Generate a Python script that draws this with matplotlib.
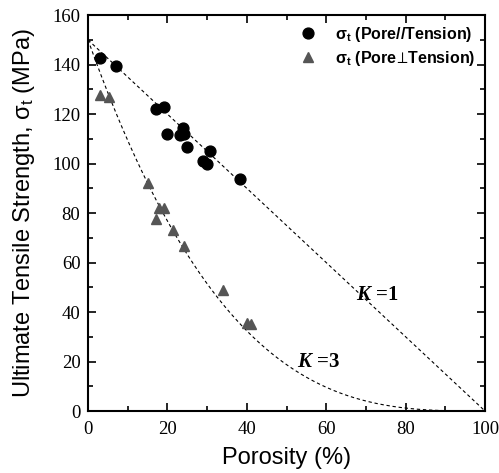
import matplotlib
matplotlib.use("Agg")
import matplotlib.pyplot as plt
import numpy as np
from matplotlib.ticker import MultipleLocator

# Pore // Tension (circles)
par_porosity = [3.0, 7.0, 17.1, 19.2, 20.0, 24.0, 23.2, 24.3, 25.0, 30.7, 29.0, 29.9, 38.3]
par_strength = [142.8, 139.5, 122.0, 122.7, 112.0, 114.2, 111.5, 111.8, 106.9, 105.0, 101.0, 99.8, 93.7]

# Pore perpendicular Tension (triangles)
perp_porosity = [3.0, 5.3, 15.0, 17.9, 19.1, 17.1, 21.3, 24.3, 34.1, 40.0, 41.0]
perp_strength = [127.7, 127.0, 92.3, 81.9, 82.2, 77.8, 73.1, 66.7, 48.9, 35.4, 35.0]

SIGMA0 = 150.0
K_VALUES = [1, 3]

plt.rcParams["mathtext.fontset"] = "custom"
plt.rcParams["mathtext.rm"] = "DejaVu Sans:bold"   # only used for the perp sign
plt.rcParams["mathtext.bf"] = "Liberation Sans:bold"
plt.rcParams["mathtext.it"] = "Liberation Serif:italic:bold"

fig = plt.figure(figsize=(4.99, 4.73), dpi=100)
ax = fig.add_axes([0.1764, 0.131, 0.7956, 0.837])

p = np.linspace(0, 100, 400)
for k in K_VALUES:
    ax.plot(p, SIGMA0 * (1 - p / 100) ** k, color="black", linestyle=(0, (3, 2.5)), linewidth=0.8)

ax.plot(par_porosity, par_strength, "o", color="black", markersize=7.8,
        label=r"$\mathbf{\sigma_t}$ (Pore//Tension)")
ax.plot(perp_porosity, perp_strength, "^", color="#555555", markersize=7.8,
        label=r"$\mathbf{\sigma_t}$ (Pore$\!\perp\!$Tension)")

ax.text(67.5, 47, r"$\mathit{K}$ =1", fontsize=15, fontweight="bold",
        family="Liberation Serif", ha="left", va="center")
ax.text(52.6, 20, r"$\mathit{K}$ =3", fontsize=15, fontweight="bold",
        family="Liberation Serif", ha="left", va="center")

ax.set_xlim(0, 100)
ax.set_ylim(0, 160)
ax.xaxis.set_major_locator(MultipleLocator(20))
ax.xaxis.set_minor_locator(MultipleLocator(10))
ax.yaxis.set_major_locator(MultipleLocator(20))
ax.yaxis.set_minor_locator(MultipleLocator(10))
ax.tick_params(which="both", direction="in", top=True, right=True, width=1.2,
               labelfontfamily="Liberation Serif", labelsize=13.5)
ax.tick_params(which="major", length=6)
ax.tick_params(which="minor", length=3.5)
ax.tick_params(axis="x", pad=7)
ax.tick_params(axis="y", pad=5.5)
for s in ax.spines.values():
    s.set_linewidth(1.5)

ax.set_xlabel("Porosity (%)", family="Liberation Sans", fontsize=17, labelpad=7)
ax.set_ylabel(r"Ultimate Tensile Strength, $\mathregular{\sigma_t}$ (MPa)",
              family="Liberation Sans", fontsize=17, labelpad=11)

leg = ax.legend(loc="upper right", frameon=False, handletextpad=1.1,
                borderaxespad=0.2, labelspacing=0.3, handlelength=1.2,
                prop={"family": "Liberation Sans", "weight": "bold", "size": 11.5})

fig.savefig("out.png", dpi=100)
